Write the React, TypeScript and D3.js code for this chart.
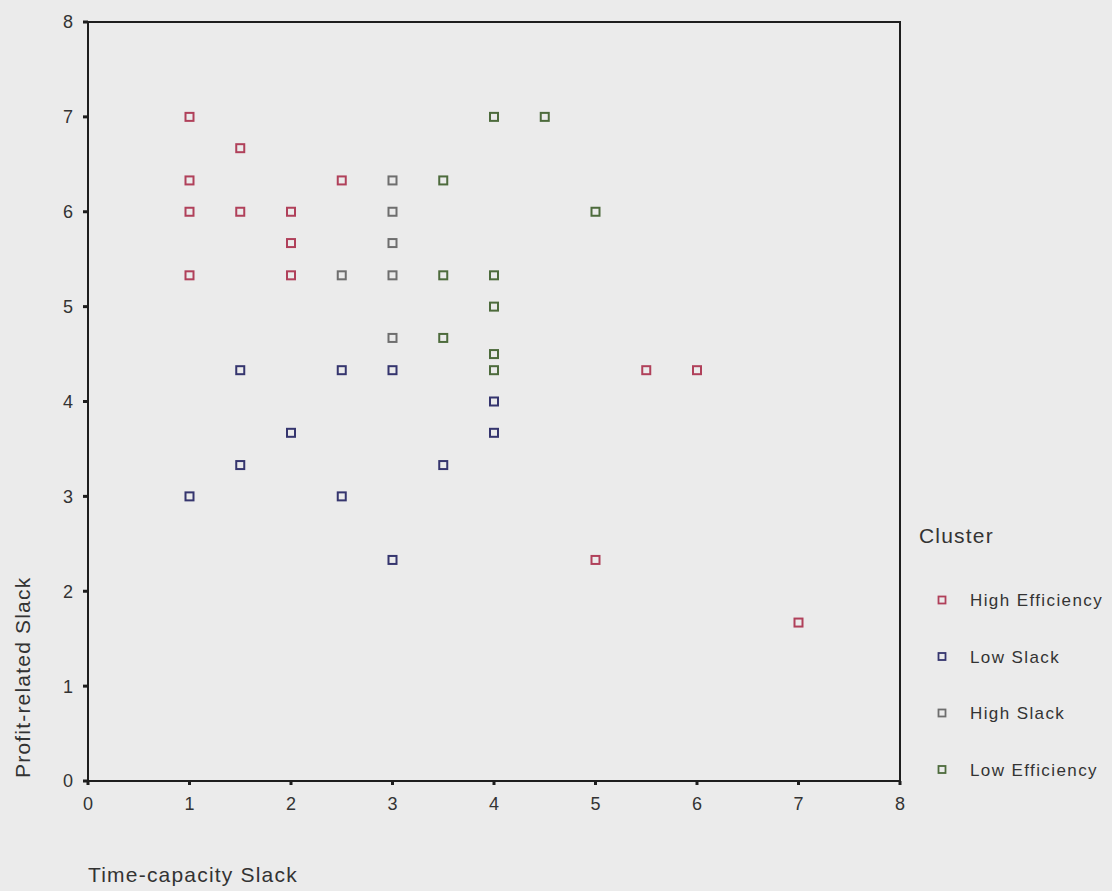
import * as d3 from "d3";

// cluster scatter: Time-capacity Slack (x) vs Profit-related Slack (y)
const clusterNames = ["High Efficiency", "Low Slack", "High Slack", "Low Efficiency"];
const clusterColors = ["#b0405a", "#35356e", "#6e6e6e", "#4d6b3c"];

const highEfficiency: [number, number][] = [
  [1, 7], [1.5, 6.67], [1, 6.33], [1, 6], [1.5, 6], [2, 6], [2, 5.67],
  [1, 5.33], [2, 5.33], [2.5, 6.33],
  [5.5, 4.33], [6, 4.33], [5, 2.33], [7, 1.67],
];
const lowSlack: [number, number][] = [
  [1.5, 4.33], [2.5, 4.33], [3, 4.33], [4, 4], [4, 3.67], [2, 3.67],
  [1.5, 3.33], [3.5, 3.33], [1, 3], [2.5, 3], [3, 2.33],
];
const highSlack: [number, number][] = [
  [2.5, 5.33], [3, 6.33], [3, 6], [3, 5.67], [3, 5.33], [3, 4.67],
];
const lowEfficiency: [number, number][] = [
  [4, 7], [4.5, 7], [3.5, 6.33], [5, 6], [3.5, 5.33], [4, 5.33], [4, 5],
  [3.5, 4.67], [4, 4.5], [4, 4.33],
];
const seriesData = [highEfficiency, lowSlack, highSlack, lowEfficiency];

const xTicks = [0, 1, 2, 3, 4, 5, 6, 7, 8];
const yTicks = [0, 1, 2, 3, 4, 5, 6, 7, 8];

const W = 1112;
const H = 891;
const font = "'Liberation Sans', Arial, sans-serif";

export default function App() {
  const x = d3.scaleLinear().domain([0, 8]).range([88, 900]);
  const y = d3.scaleLinear().domain([0, 8]).range([781, 22]);
  const sq = 8;

  return (
    <div style={{ position: "absolute", left: 0, top: 0 }}>
      <svg width={W} height={H} style={{ display: "block", background: "#ebebeb" }}>
        {/* frame */}
        <rect x={x(0)} y={y(8)} width={x(8) - x(0)} height={y(0) - y(8)}
          fill="none" stroke="#1e1e1e" strokeWidth={2} />

        {/* y ticks */}
        {yTicks.map(t => (
          <g key={"y" + t}>
            <rect x={x(0) - 5} y={y(t) - 1.5} width={5} height={3} fill="#1e1e1e" />
            <text x={73} y={y(t)} dy="0.36em" textAnchor="end" fontSize={18}
              fontFamily={font} fill="#333">{t}</text>
          </g>
        ))}

        {/* x ticks */}
        {xTicks.map(t => (
          <g key={"x" + t}>
            <rect x={x(t) - 1.5} y={y(0)} width={3} height={4} fill="#1e1e1e" />
            <text x={x(t)} y={810} textAnchor="middle" fontSize={18}
              fontFamily={font} fill="#333">{t}</text>
          </g>
        ))}

        {/* axis titles */}
        <text x={88} y={882} fontSize={21} letterSpacing={1.2} fontFamily={font} fill="#333">
          Time-capacity Slack
        </text>
        <text transform={`translate(30,778) rotate(-90)`} fontSize={21} letterSpacing={1.2}
          fontFamily={font} fill="#333">
          Profit-related Slack
        </text>

        {/* points */}
        {seriesData.map((pts, si) => (
          <g key={"s" + si}>
            {pts.map((p, i) => (
              <rect key={i} x={x(p[0]) - sq / 2} y={y(p[1]) - sq / 2} width={sq} height={sq}
                fill="none" stroke={clusterColors[si]} strokeWidth={2} />
            ))}
          </g>
        ))}

        {/* legend */}
        <text x={919} y={543} fontSize={21} letterSpacing={1.2} fontFamily={font} fill="#333">
          Cluster
        </text>
        {clusterNames.map((name, i) => {
          const ly = 600 + i * 56.5;
          return (
            <g key={name}>
              <rect x={942 - 3.5} y={ly - 3.5} width={7} height={7} fill="none"
                stroke={clusterColors[i]} strokeWidth={1.8} />
              <text x={970} y={ly} dy="0.36em" fontSize={17} letterSpacing={1.4}
                fontFamily={font} fill="#333">{name}</text>
            </g>
          );
        })}
      </svg>
    </div>
  );
}
